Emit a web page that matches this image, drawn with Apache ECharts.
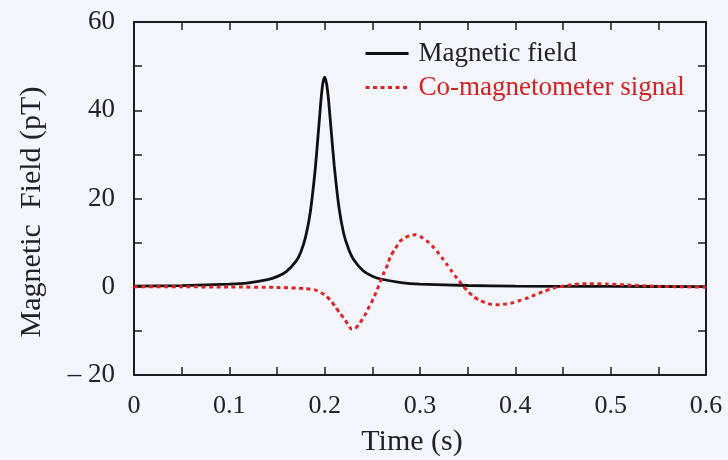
<!DOCTYPE html>
<html>
<head>
<meta charset="utf-8">
<script src="https://cdn.jsdelivr.net/npm/echarts@6/dist/echarts.min.js"></script>
<style>
html,body{margin:0;padding:0;background:#f4f4fb;}
#chart{width:728px;height:460px;}
</style>
</head>
<body>
<div id="chart"></div>
<script>
// Magnetic field (black solid)
var fieldTime = [0, 0.05, 0.1, 0.12, 0.14, 0.15, 0.16, 0.17, 0.175, 0.18, 0.185, 0.19, 0.193, 0.196, 0.198, 0.2, 0.202, 0.204, 0.207, 0.21, 0.215, 0.22, 0.225, 0.23, 0.24, 0.25, 0.26, 0.28, 0.3, 0.35, 0.4, 0.5, 0.6];
var fieldValue = [0.15, 0.26, 0.6, 0.9, 1.6, 2.3, 3.5, 5.8, 7.9, 11.3, 17, 26.4, 34, 42, 46, 47.5, 46, 42.5, 35, 27.5, 18, 12, 8.6, 6.3, 3.7, 2.4, 1.7, 0.95, 0.6, 0.28, 0.15, 0.07, 0.04];
// Co-magnetometer signal (red dashed)
var signalTime = [0, 0.05, 0.1, 0.15, 0.17, 0.18, 0.19, 0.196, 0.202, 0.207, 0.211, 0.216, 0.22, 0.224, 0.228, 0.232, 0.237, 0.242, 0.246, 0.251, 0.255, 0.259, 0.262, 0.266, 0.269, 0.274, 0.279, 0.287, 0.295, 0.301, 0.307, 0.313, 0.318, 0.323, 0.328, 0.333, 0.337, 0.3455, 0.351, 0.356, 0.362, 0.368, 0.375, 0.382, 0.39, 0.398, 0.405, 0.412, 0.42, 0.429, 0.436, 0.443, 0.452, 0.461, 0.475, 0.496, 0.517, 0.548, 0.575, 0.6];
var signalValue = [0, -0.02, -0.05, -0.15, -0.3, -0.45, -0.7, -1.3, -2.2, -3.3, -4.5, -6.0, -7.1, -8.4, -9.6, -9.5, -8.2, -6.5, -4.8, -2.7, -0.7, 1.5, 3.1, 5.0, 6.9, 8.6, 10.3, 11.4, 11.8, 11.3, 10.4, 9.2, 8.0, 6.6, 5.1, 3.6, 2.4, 0.1, -1.2, -2.2, -3.0, -3.6, -4.0, -4.1, -3.9, -3.6, -3.1, -2.6, -1.9, -1.1, -0.6, -0.1, 0.2, 0.5, 0.7, 0.6, 0.4, 0.1, 0.0, -0.1];
var seriesNames = ['Magnetic field', 'Co-magnetometer signal'];
var xTitle = 'Time (s)';
var yTitle = 'Magnetic  Field (pT)';

function pairs(t, v) { return t.map(function (x, i) { return [x, v[i]]; }); }

var FONT = '"Liberation Serif", "DejaVu Serif", serif';
var AX = '#1c1c1c';
var RED = '#dc2626';
var DASH = [4, 3.5];

var axisCommon = {
  axisLine: { show: true, onZero: false, lineStyle: { color: AX, width: 2 } },
  axisTick: { show: true, inside: true, length: 8, lineStyle: { color: AX, width: 1.5 } },
  minorTick: { show: true, splitNumber: 2, length: 8, lineStyle: { color: AX, width: 1.5 } },
  splitLine: { show: false },
  minorSplitLine: { show: false }
};

var chart = echarts.init(document.getElementById('chart'), null, { renderer: 'canvas' });
chart.setOption({
  backgroundColor: '#f4f4fb',
  animation: false,
  grid: { left: 134, right: 22, top: 22, bottom: 85, outerBoundsMode: 'none' },
  legend: {
    orient: 'vertical',
    left: 364,
    top: 40,
    itemWidth: 43,
    itemHeight: 14,
    itemGap: 7,
    padding: 0,
    itemStyle: { opacity: 0 },
    textStyle: { fontFamily: FONT, fontSize: 27, padding: [0, 0, 0, 5] },
    data: [
      { name: seriesNames[0], textStyle: { color: '#222' }, lineStyle: { color: '#111', width: 2.8, type: 'solid' } },
      { name: seriesNames[1], textStyle: { color: '#d42222' }, lineStyle: { color: RED, width: 3, type: DASH } }
    ]
  },
  xAxis: [
    Object.assign({}, axisCommon, {
      type: 'value', position: 'bottom', min: 0, max: 0.6, interval: 0.1,
      name: xTitle, nameLocation: 'middle', nameGap: 52,
      nameTextStyle: { fontFamily: FONT, fontSize: 30, color: '#222', padding: [0, 16, 0, 0] },
      axisLabel: { fontFamily: FONT, fontSize: 26, color: '#222', margin: 18,
        formatter: function (v) { return String(Math.round(v * 10) / 10); } }
    }),
    Object.assign({}, axisCommon, {
      type: 'value', position: 'top', min: 0, max: 0.6, interval: 0.1,
      axisLabel: { show: false }
    })
  ],
  yAxis: [
    Object.assign({}, axisCommon, {
      type: 'value', position: 'left', min: -20, max: 60, interval: 20,
      axisLabel: { fontFamily: FONT, fontSize: 27, color: '#222', margin: 19,
        formatter: function (v) { return v < 0 ? '\u2013 ' + (-v) : String(v); } }
    }),
    Object.assign({}, axisCommon, {
      type: 'value', position: 'right', min: -20, max: 60, interval: 20,
      axisLabel: { show: false }
    })
  ],
  graphic: [{
    type: 'text',
    x: 32, y: 212,
    rotation: Math.PI / 2,
    style: { text: yTitle, font: '30px ' + FONT, fill: '#222', align: 'center', verticalAlign: 'middle' }
  }],
  series: [
    {
      name: seriesNames[0], type: 'line', xAxisIndex: 0, yAxisIndex: 0,
      data: pairs(fieldTime, fieldValue), smooth: 0.2, symbol: 'none',
      lineStyle: { color: '#111', width: 2.8 }, itemStyle: { color: '#111' }, z: 3
    },
    {
      name: seriesNames[1], type: 'line', xAxisIndex: 0, yAxisIndex: 0,
      data: pairs(signalTime, signalValue), smooth: 0.2, symbol: 'none',
      lineStyle: { color: RED, width: 3, type: DASH }, itemStyle: { color: RED }, z: 4
    }
  ]
});
</script>
</body>
</html>
